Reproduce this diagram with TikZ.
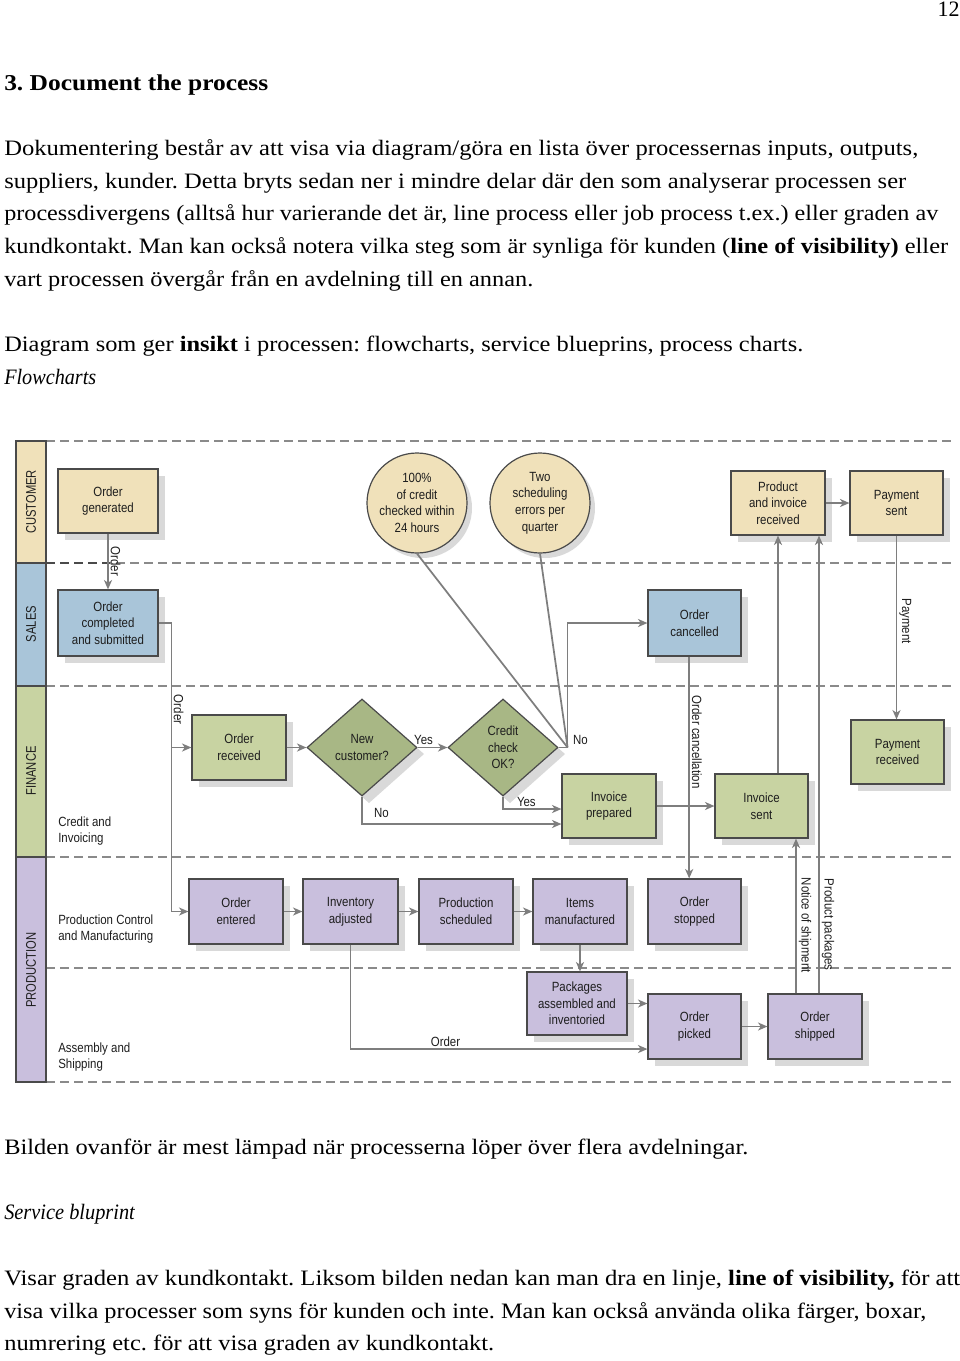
\documentclass[tikz,border=0pt]{standalone}
\usepackage{fontspec}
\usepackage{graphicx}
\setmainfont{Liberation Serif}
\newfontfamily\nar[FakeStretch=0.86]{Liberation Sans}
\newfontfamily\narr[FakeStretch=0.8]{Liberation Sans}
\usetikzlibrary{shapes.geometric,arrows.meta,calc}
\frenchspacing
\definecolor{tanF}{HTML}{F0E1BA}
\definecolor{blueF}{HTML}{A9C5D9}
\definecolor{greenF}{HTML}{C8D3A2}
\definecolor{dgreenF}{HTML}{A8B785}
\definecolor{lavF}{HTML}{C9BFDD}
\definecolor{lineC}{HTML}{7E7E7E}
\definecolor{bordC}{HTML}{4A4A4A}
\definecolor{shadC}{HTML}{D9D9D9}
\definecolor{dashC}{HTML}{8A8A8A}
\definecolor{txtC}{HTML}{1E1E1E}
\newcommand\dfont{\nar\fontsize{10}{12.5}\selectfont}
\tikzset{
  pbox/.style={draw=bordC,line width=0.9pt,align=center,inner sep=1pt,font=\dfont,text=txtC},
  dmd/.style={diamond,draw=bordC,line width=0.9pt,fill=dgreenF,align=center,inner sep=0pt,font=\dfont,text=txtC,minimum width=82.5pt,minimum height=72.75pt},
  circ/.style={circle,draw=bordC,line width=0.9pt,fill=tanF,minimum size=75pt,inner sep=0pt,align=center,font=\dfont,text=txtC},
  conn/.style={draw=lineC,line width=1.3pt,-{Stealth[length=7pt,width=6pt,inset=2pt]}},
  thinline/.style={draw=lineC,line width=1.3pt},
  lbl/.style={font=\dfont,inner sep=1.5pt,text=txtC},
  vlbl/.style={lbl,rotate=-90,anchor=south},
  lanedash/.style={draw=dashC,line width=0.9pt,dash pattern=on 6.75pt off 3.75pt},
  lanebar/.style={draw=bordC,line width=0.9pt},
  lanelbl/.style={font=\narr\fontsize{10.5}{12}\selectfont,text=txtC,rotate=90,inner sep=0pt},
  sidelbl/.style={font=\dfont,align=left,anchor=west,inner sep=0pt,text=txtC},
  ptext/.style={anchor=base west,inner sep=0pt,font=\fontsize{16.5}{19}\selectfont},
}
\newcommand\bx[7]{%
  \fill[shadC] ({#2+7},{#3+7}) rectangle ({#4+7},{#5+7});
  \node[pbox,fill=#6,minimum width={(#4-#2)*0.75pt},minimum height={(#5-#3)*0.75pt}] (#1) at ({(#2+#4)/2},{(#3+#5)/2}) {#7};}
\newcommand\tline[4]{\node[ptext] (#1) at (4,#2) {\resizebox{#3}{\height}{#4}};}
\begin{document}
\begin{tikzpicture}[x=0.75pt,y=-0.75pt]
\fill[white] (0,0) rectangle (960,1361);
\useasboundingbox (0,0) rectangle (960,1361);

% ---------- page text ----------
\node[anchor=base east,inner sep=0pt,font=\fontsize{16.5}{19}\selectfont] (pgnum) at (960,16) {12};
\node[ptext,font=\fontsize{17}{20}\selectfont\bfseries] (head) at (4,90) {\resizebox{198pt}{\height}{3. Document the process}};
\tline{t1}{155}{685.5pt}{Dokumentering består av att visa via diagram/göra en lista över processernas inputs, outputs,}
\tline{t2}{188}{676.5pt}{suppliers, kunder. Detta bryts sedan ner i mindre delar där den som analyserar processen ser}
\tline{t3}{220}{700.5pt}{processdivergens (alltså hur varierande det är, line process eller job process t.ex.) eller graden av}
\tline{t4}{253}{708pt}{kundkontakt. Man kan också notera vilka steg som är synliga för kunden (\textbf{line of visibility)} eller}
\tline{t5}{286}{396.75pt}{vart processen övergår från en avdelning till en annan.}
\tline{t6}{351}{599.25pt}{Diagram som ger \textbf{insikt} i processen: flowcharts, service blueprins, process charts.}
\tline{t7}{384}{69pt}{\textit{Flowcharts}}
\tline{b1}{1154}{558pt}{Bilden ovanför är mest lämpad när processerna löper över flera avdelningar.}
\tline{b2}{1219}{98.25pt}{\textit{Service bluprint}}
\tline{b3}{1285}{717pt}{Visar graden av kundkontakt. Liksom bilden nedan kan man dra en linje, \textbf{line of visibility,} för att}
\tline{b4}{1318}{691.5pt}{visa vilka processer som syns för kunden och inte. Man kan också använda olika färger, boxar,}
\tline{b5}{1350}{367.5pt}{numrering etc. för att visa graden av kundkontakt.}

% ---------- lanes ----------
\foreach \yy in {441,563,686,857,968,1082} {\draw[lanedash] (46,\yy) -- (952,\yy);}
\draw[draw=bordC,line width=1.2pt,dash pattern=on 6.75pt off 3.75pt] (46,563) -- (110,563);
\draw[lanebar,fill=tanF] (16,441) rectangle (46,563);
\draw[lanebar,fill=blueF] (16,563) rectangle (46,686);
\draw[lanebar,fill=greenF] (16,686) rectangle (46,857);
\draw[lanebar,fill=lavF] (16,857) rectangle (46,1082);
\node[lanelbl] (lcust) at (31,502) {CUSTOMER};
\node[lanelbl] (lsales) at (31,624) {SALES};
\node[lanelbl] (lfin) at (31,771) {FINANCE};
\node[lanelbl] (lprod) at (31,970) {PRODUCTION};
\node[sidelbl] (scredit) at (58,831) {Credit and\\Invoicing};
\node[sidelbl] (sprodc) at (58,929) {Production Control\\and Manufacturing};
\node[sidelbl] (sassy) at (58,1057) {Assembly and\\Shipping};

% ---------- customer ----------
\bx{og}{58}{469}{158}{533}{tanF}{Order\\generated}
\fill[shadC] (422,508) circle[radius=37.5pt];
\fill[shadC] (545,508) circle[radius=37.5pt];
\node[circ] (c1) at (417,503) {100\%\\of credit\\checked within\\24 hours};
\node[circ] (c2) at (540,503) {Two\\scheduling\\errors per\\quarter};
\bx{pir}{731}{471}{825}{535}{tanF}{Product\\and invoice\\received}
\bx{ps}{850}{471}{943}{535}{tanF}{Payment\\sent}

% ---------- sales ----------
\bx{oc}{58}{590}{158}{656}{blueF}{Order\\completed\\and submitted}
\bx{ocan}{648}{590}{741}{656}{blueF}{Order\\cancelled}

% ---------- finance ----------
\bx{orc}{192}{715}{286}{780}{greenF}{Order\\received}
\fill[shadC] (369,706) -- (424,754) -- (369,803) -- (314,754) -- cycle;
\fill[shadC] (510,706) -- (565,754) -- (510,803) -- (455,754) -- cycle;
\node[dmd] (nc) at (362,747.5) {New\\customer?};
\node[dmd] (cc) at (503,747.5) {Credit\\check\\OK?};
\bx{ip}{562}{774}{656}{838}{greenF}{Invoice\\prepared}
\bx{is}{715}{774}{808}{838}{greenF}{Invoice\\sent}
\bx{pr}{851}{720}{944}{784}{greenF}{Payment\\received}

% ---------- production ----------
\bx{oe}{189}{879}{283}{944}{lavF}{Order\\entered}
\bx{ia}{303}{879}{398}{944}{lavF}{Inventory\\adjusted}
\bx{psch}{419}{879}{513}{944}{lavF}{Production\\scheduled}
\bx{im}{533}{879}{627}{944}{lavF}{Items\\manufactured}
\bx{ost}{648}{879}{741}{944}{lavF}{Order\\stopped}
\bx{pk}{527}{972}{627}{1035}{lavF}{Packages\\assembled and\\inventoried}
\bx{op}{648}{994}{741}{1059}{lavF}{Order\\picked}
\bx{os}{768}{994}{862}{1059}{lavF}{Order\\shipped}

% ---------- connectors ----------
\draw[conn] (og.south) -- (oc.north) node[vlbl,pos=0.5] (lo1) {Order};
\coordinate (j1) at ($(oc.east)+(13,0)$);
\draw[conn] (oc.east) -- (j1) |- (oe.west);
\draw[conn] (j1 |- orc.west) -- (orc.west);
\path (j1) -- (j1 |- oe.west) node[vlbl,pos=0.30] (lo2) {Order};
\draw[conn] (orc.east) -- (nc.west);
\draw[conn] (nc.east) -- (cc.west) node[lbl,pos=0.2,anchor=south] (ly1) {Yes};
\draw[conn] (nc.south) |- ([yshift=-13.5pt]ip.west) node[lbl,pos=0.3,anchor=west,xshift=7pt] (ln1) {No};
\draw[conn] (cc.south) |- ([yshift=-2.25pt]ip.west) node[lbl,pos=0.7,anchor=south] (ly2) {Yes};
\coordinate (nj) at ($(cc.east)+(9,0)$);
\draw[conn] (cc.east) -- (nj) node[lbl,anchor=south west,xshift=2pt] (ln2) {No} |- (ocan.west);
\draw[thinline] (c1.south) -- (nj);
\draw[thinline] (c2.south) -- (nj);
\draw[conn] ([xshift=-4pt]ocan.south) -- ([xshift=-4pt]ocan.south |- ost.north) node[vlbl,pos=0.386] (loc) {Order cancellation};
\draw[conn] (ip.east) -- (is.west);
\draw[conn] (pir.south |- is.north) -- (pir.south);
\draw[conn] ([xshift=3pt]os.north) -- ([xshift=3pt]os.north |- pir.south) node[vlbl,pos=0.15] (lpp) {Product packages};
\draw[conn] ([xshift=-14.25pt]os.north) -- ([xshift=-14.25pt]os.north |- is.south) node[vlbl,pos=0.44] (lns) {Notice of shipment};
\draw[conn] (ps.south) -- (ps.south |- pr.north) node[vlbl,pos=0.465] (lpay) {Payment};
\draw[conn] (pir.east) -- (ps.west);
\draw[conn] (oe.east) -- (ia.west);
\draw[conn] (ia.east) -- (psch.west);
\draw[conn] (psch.east) -- (im.west);
\draw[conn] (im.south) -- (im.south |- pk.north);
\draw[conn] (pk.east) -- (pk.east -| op.west);
\draw[conn] (ia.south) |- ([yshift=-16.9pt]op.west) node[lbl,pos=0.66,anchor=south] (lo3) {Order};
\draw[conn] (op.east) -- (os.west);
\end{tikzpicture}
\end{document}
